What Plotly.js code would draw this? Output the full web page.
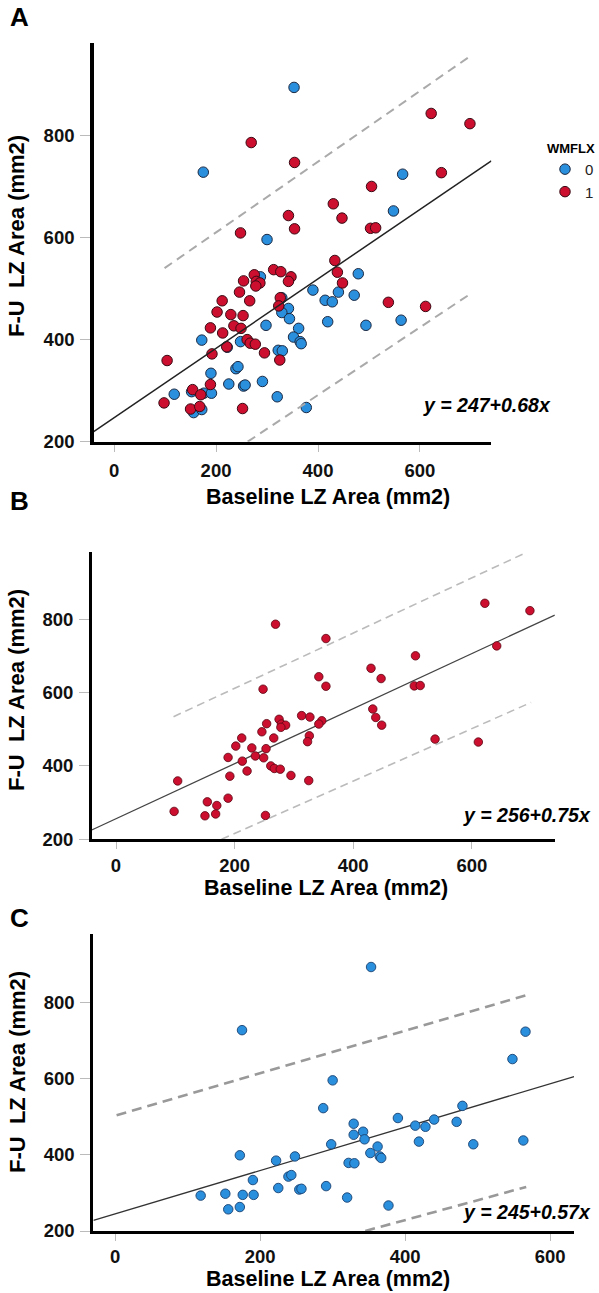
<!DOCTYPE html>
<html><head><meta charset="utf-8">
<script src="https://cdn.plot.ly/plotly-3.0.1.min.js"></script>
<style>html,body{margin:0;padding:0;background:#fff}#chart{width:599px;height:1293px}</style>
</head><body><div id="chart"></div>
<script>
// ---- data ----
const redX = [622,642,269,354,505,430,447,342,354,248,503,513,433,438,448,313,327,347,342,275,279,286,278,254,246,266,212,202,229,253,189,213,235,249,326,323,261,267,277,221,192,295,325,104,538,611,189,154,170,98,150,168,252,698];
const redY = [843,727,786,747,700,666,638,643,617,609,618,619,555,532,511,537,533,523,514,527,514,511,505,515,493,476,476,454,449,447,423,413,427,422,482,466,400,393,391,386,372,374,360,359,473,465,312,302,292,276,264,269,265,823];
const blueX = [353,175,300,287,329,342,329,344,298,362,352,365,367,390,414,428,440,419,471,479,494,322,330,172,222,248,190,239,243,225,254,257,291,118,152,176,191,156,172,320,377,566,548,563];
const blueY = [894,728,596,523,482,461,453,441,428,422,405,396,392,497,477,474,493,435,487,529,428,379,378,399,385,396,334,343,347,313,309,311,318,293,298,295,295,257,263,288,267,724,652,438];
const groupNames = ['0','1'];
const xTicks = [0,200,400,600];
const yTicks = [200,400,600,800];
const panelLetters = ['A','B','C'];
const fitIntercept = [247,256,245];
const fitSlope = [0.68,0.75,0.57];
const fitXStart = [-40,-41,-30];
const fitXEnd = [740,740,633];
const eqText = ['y = 247+0.68x','y = 256+0.75x','y = 245+0.57x'];
const upperA_X = [99,701],  upperA_Y = [540,957];
const lowerA_X = [262,695], lowerA_Y = [200,487];
const upperB_X = [97,690],  upperB_Y = [534,980];
const lowerB_X = [178,700], lowerB_Y = [200,573];
const upperC_X = [2,567],   upperC_Y = [504,820];
const lowerC_X = [345,567], lowerC_Y = [200,316];
const xTitle = 'Baseline LZ Area (mm2)';
const yTitle = 'F-U  LZ Area (mm2)';

// ---- layout constants ----
const W = 599, H = 1293;
const px = v => v / W, py = v => 1 - v / H;
const FONT = 'Liberation Sans, Arial, sans-serif';
const BLUE = '#2a8fdc', RED = '#cc0f2e';

function fitLine(i){
  const xs = [fitXStart[i], fitXEnd[i]];
  return xs.map(x => fitIntercept[i] + fitSlope[i]*x);
}

const traces = [];
// Panel A
traces.push({x: blueX, y: blueY, xaxis:'x', yaxis:'y', type:'scatter', mode:'markers', name: groupNames[0],
  marker:{size:10.5, color:BLUE, line:{color:'#1c2a44', width:1}}, showlegend:true});
traces.push({x: redX, y: redY, xaxis:'x', yaxis:'y', type:'scatter', mode:'markers', name: groupNames[1],
  marker:{size:10.5, color:RED, line:{color:'#3a0a14', width:1}}, showlegend:true});
traces.push({x:[fitXStart[0],fitXEnd[0]], y: fitLine(0), xaxis:'x', yaxis:'y', mode:'lines', line:{color:'#222', width:1.5}, showlegend:false});
traces.push({x:upperA_X, y:upperA_Y, xaxis:'x', yaxis:'y', mode:'lines', line:{color:'#aaa', width:2, dash:'9px,6px'}, showlegend:false});
traces.push({x:lowerA_X, y:lowerA_Y, xaxis:'x', yaxis:'y', mode:'lines', line:{color:'#aaa', width:2, dash:'9px,6px'}, showlegend:false});
// Panel B
traces.push({x:[fitXStart[1],fitXEnd[1]], y: fitLine(1), xaxis:'x2', yaxis:'y2', mode:'lines', line:{color:'#444', width:1.3}, showlegend:false});
traces.push({x:upperB_X, y:upperB_Y, xaxis:'x2', yaxis:'y2', mode:'lines', line:{color:'#bbb', width:1.6, dash:'8px,5px'}, showlegend:false});
traces.push({x:lowerB_X, y:lowerB_Y, xaxis:'x2', yaxis:'y2', mode:'lines', line:{color:'#bbb', width:1.6, dash:'8px,5px'}, showlegend:false});
traces.push({x: redX, y: redY, xaxis:'x2', yaxis:'y2', type:'scatter', mode:'markers', name: groupNames[1],
  marker:{size:8.5, color:RED, line:{color:'#5a0614', width:0.8}}, showlegend:false});
// Panel C
traces.push({x:[fitXStart[2],fitXEnd[2]], y: fitLine(2), xaxis:'x3', yaxis:'y3', mode:'lines', line:{color:'#333', width:1.3}, showlegend:false});
traces.push({x:upperC_X, y:upperC_Y, xaxis:'x3', yaxis:'y3', mode:'lines', line:{color:'#999', width:2.6, dash:'10px,6px'}, showlegend:false});
traces.push({x:lowerC_X, y:lowerC_Y, xaxis:'x3', yaxis:'y3', mode:'lines', line:{color:'#999', width:2.6, dash:'10px,6px'}, showlegend:false});
traces.push({x: blueX, y: blueY, xaxis:'x3', yaxis:'y3', type:'scatter', mode:'markers', name: groupNames[0],
  marker:{size:9.5, color:BLUE, line:{color:'#1a4272', width:0.9}}, showlegend:false});

const tickFont = {family:FONT, size:18.5, weight:700, color:'#111'};
function xAx(d, r, anchor, lw, so){
  return {domain:d, range:r, anchor:anchor, showline:true, linecolor:'#000', linewidth:lw,
    ticks:'outside', ticklen:7, tickwidth:1, tickcolor:'#bbb', tickvals:xTicks, ticktext:xTicks.map(String),
    showgrid:false, zeroline:false, tickfont:tickFont, ticklabelstandoff:so, fixedrange:true};
}
function yAx(d, r, anchor, lw){
  return {domain:d, range:r, anchor:anchor, showline:true, linecolor:'#000', linewidth:lw,
    ticks:'outside', ticklen:10, tickwidth:1, tickcolor:'#bbb', tickvals:yTicks, ticktext:yTicks.map(String),
    showgrid:false, zeroline:false, tickfont:tickFont, ticklabelstandoff:2, fixedrange:true};
}

const ann = [];
const letterY = [17, 501, 918];
const yTitleY = [236, 690, 1072];
const xTitlePos = [[329,497],[327,888],[329,1279]];
const eqPos = [[555,405],[595,815],[595,1212]];
for (let i=0;i<3;i++){
  ann.push({xref:'paper', yref:'paper', x:px(20), y:py(letterY[i]), xanchor:'center', yanchor:'middle',
    text:panelLetters[i], showarrow:false, font:{family:FONT, size:26, weight:700, color:'#000'}});
  ann.push({xref:'paper', yref:'paper', x:px(17), y:py(yTitleY[i]), xanchor:'center', yanchor:'middle', textangle:-90,
    text:yTitle, showarrow:false, font:{family:FONT, size:22, weight:700, color:'#000'}});
  ann.push({xref:'paper', yref:'paper', x:px(xTitlePos[i][0]), y:py(xTitlePos[i][1]), xanchor:'center', yanchor:'middle',
    text:xTitle, showarrow:false, borderpad:0, font:{family:FONT, size:21.5, weight:700, color:'#000'}});
  ann.push({xref:'paper', yref:'paper', x:px(eqPos[i][0]), y:py(eqPos[i][1]), xanchor:'right', yanchor:'middle',
    text:'<i>'+eqText[i]+'</i>', showarrow:false, font:{family:FONT, size:19.5, weight:700, color:'#000'}});
}

const layout = {
  width:W, height:H, margin:{l:0,r:0,t:0,b:0}, paper_bgcolor:'#fff', plot_bgcolor:'#fff',
  xaxis: xAx([px(94),px(493)], [-40,740], 'y', 3, 3),
  yaxis: yAx([py(441.7),py(43)], [200,981], 'x', 3.5),
  xaxis2: xAx([px(92),px(556.7)], [-41,740], 'y2', 2.7, 1),
  yaxis2: yAx([py(839.3),py(552.3)], [200,982], 'x2', 2.7),
  xaxis3: xAx([px(93.7),px(576)], [-30,633], 'y3', 3, 0),
  yaxis3: yAx([py(1231),py(934.3)], [200,980], 'x3', 3),
  showlegend:true,
  legend:{x:px(547), y:py(136), xanchor:'left', yanchor:'top', bgcolor:'rgba(0,0,0,0)',
    title:{text:'<b>WMFLX</b>', font:{family:FONT, size:13, color:'#000'}},
    font:{family:FONT, size:15, color:'#222'}, tracegroupgap:0, itemwidth:30},
  annotations: ann
};
Plotly.newPlot('chart', traces, layout, {displayModeBar:false, staticPlot:true});
</script></body></html>
